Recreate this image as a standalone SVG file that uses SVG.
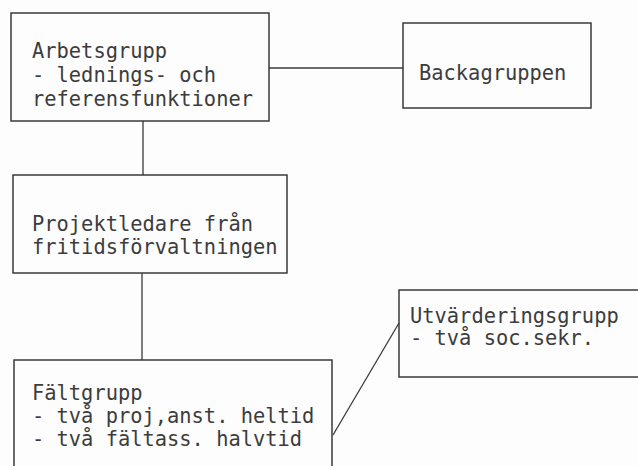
<svg xmlns="http://www.w3.org/2000/svg" width="638" height="466" viewBox="0 0 638 466">
<style>
.box{fill:none;stroke:#3a3a3a;stroke-width:1.5}
.c{fill:none;stroke:#3a3a3a;stroke-width:1.3}
text{font-family:"DejaVu Sans Mono","Liberation Mono",monospace;font-size:20.4px;fill:#3c3c3c}
</style>
<rect width="638" height="466" fill="#fdfdfd"/>
<g id="connectors">
<line class="c" x1="269" y1="68" x2="403" y2="68"/>
<line class="c" x1="143" y1="121" x2="143" y2="175"/>
<line class="c" x1="142" y1="273" x2="142" y2="360"/>
<line class="c" x1="333" y1="435" x2="399" y2="323"/>
</g>
<g id="arbetsgrupp">
<rect class="box" x="11" y="13" width="258" height="108"/>
<text x="32" y="58">Arbetsgrupp</text>
<text x="32" y="82">- lednings- och</text>
<text x="32" y="106">referensfunktioner</text>
</g>
<g id="backagruppen">
<rect class="box" x="403" y="23" width="188" height="85"/>
<text x="419" y="80">Backagruppen</text>
</g>
<g id="projektledare">
<rect class="box" x="13" y="175" width="274" height="98"/>
<text x="32" y="231">Projektledare från</text>
<text x="32" y="254">fritidsförvaltningen</text>
</g>
<g id="faltgrupp">
<rect class="box" x="14" y="360" width="318" height="120"/>
<text x="32" y="400">Fältgrupp</text>
<text x="32" y="423">- två proj,anst. heltid</text>
<text x="32" y="446">- två fältass. halvtid</text>
</g>
<g id="utvarderingsgrupp">
<rect class="box" x="399" y="290" width="250" height="87"/>
<text x="410" y="323">Utvärderingsgrupp</text>
<text x="410" y="345">- två soc.sekr.</text>
</g>
</svg>
